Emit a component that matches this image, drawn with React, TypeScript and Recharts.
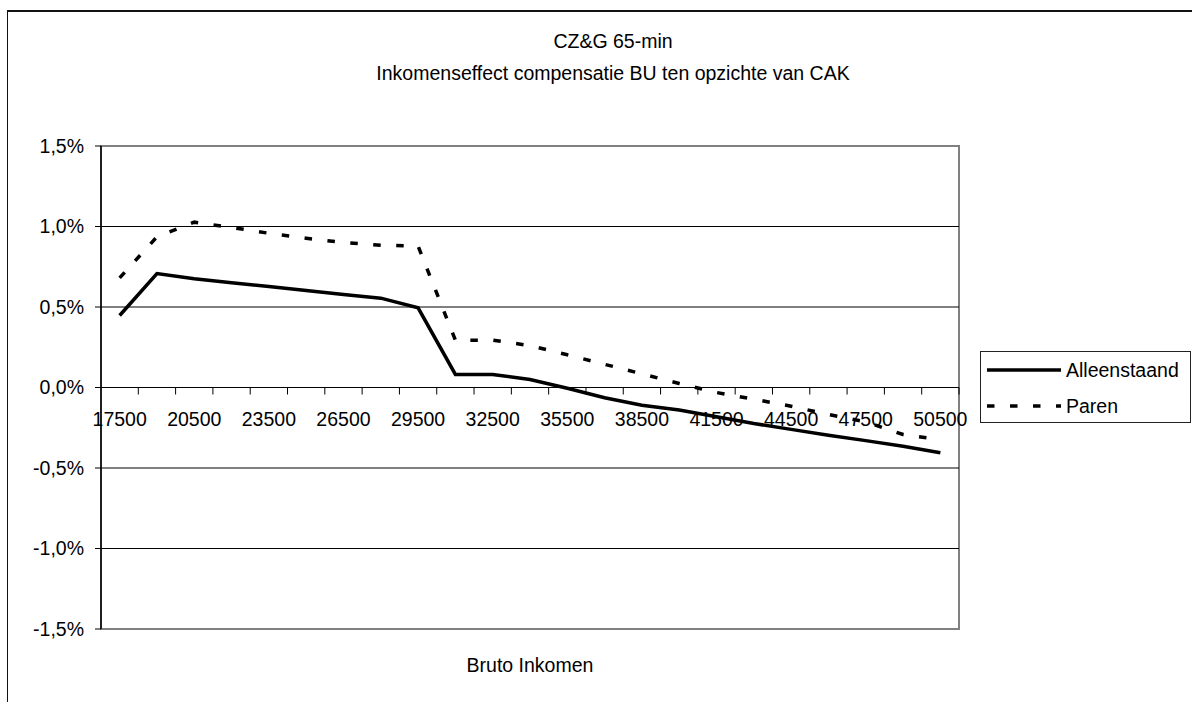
import React from 'react';
import { LineChart, Line, XAxis, YAxis, ReferenceLine, ReferenceArea } from 'recharts';

const TITLE_LINES = ['CZ&G 65-min', 'Inkomenseffect compensatie BU ten opzichte van CAK'];
const X_TITLE = 'Bruto Inkomen';

const CATEGORIES = [17500, 19000, 20500, 22000, 23500, 25000, 26500, 28000, 29500, 31000, 32500, 34000,
  35500, 37000, 38500, 40000, 41500, 43000, 44500, 46000, 47500, 49000, 50500];
const STEP = 1500;

const ALLEENSTAAND = [0.447, 0.708, 0.675, 0.650, 0.627, 0.602, 0.578, 0.555, 0.495, 0.081, 0.081, 0.05,
  -0.005, -0.064, -0.11, -0.14, -0.182, -0.224, -0.26, -0.296, -0.33, -0.365, -0.405];
const PAREN = [0.681, 0.936, 1.027, 0.994, 0.958, 0.927, 0.90, 0.884, 0.878, 0.294, 0.294, 0.26,
  0.203, 0.144, 0.085, 0.025, -0.031, -0.073, -0.116, -0.168, -0.213, -0.292, -0.323];

const TICK_LABELS = [17500, 20500, 23500, 26500, 29500, 32500, 35500, 38500, 41500, 44500, 47500, 50500];
const Y_TICKS = [-1.5, -1, -0.5, 0, 0.5, 1, 1.5];
const GRID_VALUES = [-1, -0.5, 0.5, 1];
const Y_MIN = -1.5;
const Y_MAX = 1.5;

const SERIES = [
  { key: 'Alleenstaand', values: ALLEENSTAAND, dash: undefined as string | undefined },
  { key: 'Paren', values: PAREN, dash: '7.5 15.5' },
];

const data = CATEGORIES.map((c, i) => ({ inkomen: c, Alleenstaand: ALLEENSTAAND[i], Paren: PAREN[i] }));

const X_MIN = CATEGORIES[0] - STEP / 2;
const X_MAX = CATEGORIES[CATEGORIES.length - 1] + STEP / 2;
const TICK_MARKS = CATEGORIES.map((c) => c + STEP / 2);
const LABEL_SET = new Set(TICK_LABELS);

const FONT = '"Liberation Sans", Arial, sans-serif';
const FS = 19.5;

const W = 1192;
const H = 702;
const MARGIN = { top: 146, right: 233, bottom: 53, left: 21 };
const Y_AXIS_W = 80;
const X_AXIS_H = 20;
const PLOT_H = H - MARGIN.top - MARGIN.bottom - X_AXIS_H;
const ZERO_FROM_BOTTOM = (PLOT_H * (0 - Y_MIN)) / (Y_MAX - Y_MIN);

const fmtPct = (v: number) => v.toFixed(1).replace('.', ',') + '%';

function XTick(props: any) {
  const { x, y, payload } = props;
  const zy = y - ZERO_FROM_BOTTOM;
  if (LABEL_SET.has(payload.value)) {
    return (
      <text x={x} y={zy + 31} textAnchor="middle" dominantBaseline="central" fill="#000"
        fontSize={FS} fontFamily={FONT}>{String(payload.value)}</text>
    );
  }
  return <line x1={x} x2={x} y1={zy} y2={zy + 7} stroke="#000" strokeWidth={1} />;
}

export default function App() {
  return (
    <div style={{ position: 'absolute', left: 0, top: 0, width: W, height: H, overflow: 'hidden', fontFamily: FONT }}>
      <div style={{ position: 'absolute', left: 7, top: 10, width: W - 7, height: H - 10, borderTop: '2px solid #111', borderLeft: '1.5px solid #111', boxSizing: 'border-box' }} />
      <div style={{ position: 'absolute', left: 613, top: 25, transform: 'translateX(-50%)', whiteSpace: 'nowrap', textAlign: 'center', fontSize: FS, lineHeight: '32px', color: '#000' }}>
        {TITLE_LINES.map((t) => <div key={t}>{t}</div>)}
      </div>
      <div style={{ position: 'absolute', left: 0, top: 0 }}>
        <LineChart width={W} height={H} data={data} margin={MARGIN}>
          <ReferenceArea x1={X_MIN} x2={X_MAX} y1={Y_MIN} y2={Y_MAX} fill="#fff" fillOpacity={0} stroke="#808080" strokeWidth={2} ifOverflow="visible" />
          {GRID_VALUES.map((v) => <ReferenceLine key={v} y={v} stroke="#000" strokeWidth={1} />)}
          <ReferenceLine y={0} stroke="#000" strokeWidth={1} />
          <XAxis dataKey="inkomen" type="number" domain={[X_MIN, X_MAX]} allowDataOverflow
            ticks={[...TICK_MARKS, ...TICK_LABELS]} interval={0} height={X_AXIS_H}
            axisLine={false} tickLine={false} tickSize={0} tickMargin={0} tick={<XTick />} />
          <YAxis type="number" domain={[Y_MIN, Y_MAX]} ticks={Y_TICKS} interval={0} width={Y_AXIS_W}
            tickFormatter={fmtPct} axisLine={{ stroke: '#000', strokeWidth: 1.5 }} tickLine={{ stroke: '#000' }}
            tickSize={6} tickMargin={11} tick={{ fill: '#000', fontSize: FS, fontFamily: FONT }} />
          {SERIES.map((s) => (
            <Line key={s.key} type="linear" dataKey={s.key} stroke="#000" strokeWidth={3.5}
              strokeDasharray={s.dash} dot={false} activeDot={false} isAnimationActive={false} />
          ))}
        </LineChart>
      </div>
      <div style={{ position: 'absolute', left: 530, top: 665, transform: 'translate(-50%, -50%)', fontSize: FS, whiteSpace: 'nowrap', color: '#000' }}>{X_TITLE}</div>
      <div style={{ position: 'absolute', left: 980, top: 351, width: 211, height: 72, border: '1.5px solid #222', boxSizing: 'border-box', background: '#fff' }}>
        {SERIES.map((s, i) => (
          <div key={s.key} style={{ position: 'absolute', left: 6, top: 5 + i * 36, height: 26, display: 'flex', alignItems: 'center' }}>
            <svg width={74} height={10} style={{ display: 'block' }}>
              <line x1={0} x2={74} y1={5} y2={5} stroke="#000" strokeWidth={3.5} strokeDasharray={s.dash} />
            </svg>
            <span style={{ marginLeft: 5, fontSize: FS, color: '#000', whiteSpace: 'nowrap' }}>{s.key}</span>
          </div>
        ))}
      </div>
    </div>
  );
}
